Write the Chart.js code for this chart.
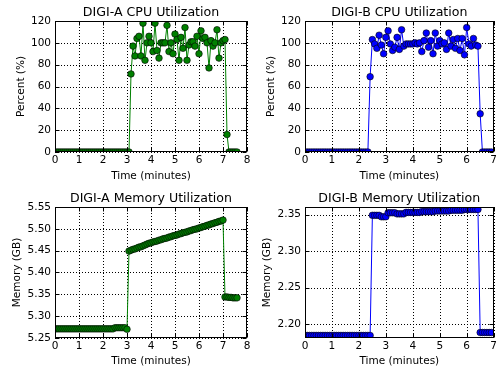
<!DOCTYPE html>
<html>
<head>
<meta charset="utf-8">
<script src="https://cdn.jsdelivr.net/npm/chart.js@4.4.0/dist/chart.umd.min.js"></script>
<style>
html, body { margin: 0; padding: 0; background: #fff; }
#wrap { position: relative; width: 499px; height: 370px; overflow: hidden; }
canvas { position: absolute; }
</style>
</head>
<body>
<div id="wrap">
  <canvas id="cpuA" width="256" height="185" style="left:0;top:0"></canvas>
  <canvas id="memA" width="256" height="185" style="left:0;top:185px"></canvas>
  <canvas id="cpuB" width="249" height="185" style="left:250px;top:0"></canvas>
  <canvas id="memB" width="249" height="185" style="left:250px;top:185px"></canvas>
</div>
<script>
// sample clocks (seconds since start)
const timeSecA = [0,5,10,15,20,25,30,35,40,45,50,55,60,65,70,75,80,85,90,95,
  100,105,110,115,120,125,130,135,140,145,150,155,160,165,170,175,180,185,190,195,
  200,205,210,215,220,225,230,235,240,245,250,255,260,265,270,275,280,285,290,295,
  300,305,310,315,320,325,330,335,340,345,350,355,360,365,370,375,380,385,390,395,
  400,405,410,415,420,425,430,435,440,445,450,455];
const timeSecB = [0,5,10,15,20,25,30,35,40,45,50,55,60,65,70,75,80,85,90,95,
  100,105,110,115,120,125,130,135,140,145,150,155,160,165,170,175,180,185,190,195,
  200,205,210,215,220,225,230,235,240,245,250,255,260,265,270,275,280,285,290,295,
  300,305,310,315,320,325,330,335,340,345,350,355,360,365,370,375,380,385,390,395,
  400,405,410,415];

// CPU utilization, percent
const cpuA = [0,0,0,0,0,0,0,0,0,0, 0,0,0,0,0,0,0,0,0,0,
  0,0,0,0,0,0,0,0,0,0, 0,0,0,0,0,0,0,0,
  71.5,97,88,104,106,88,118,84,100,106,
  100,92,118,93,86,100,100,100,116,92,
  100,90,108,103,84,105,95,114,84,98,
  101,101,97,106,90,111,104,105,100,77,
  102,97,100,112,86,100,102,103,
  16,
  0,0,0,0,0];
const cpuB = [0,0,0,0,0,0,0,0,0,0, 0,0,0,0,0,0,0,0,0,0,
  0,0,0,0,0,0,0,0,0,
  69,
  103,99,95,107,98,90,105,111,99,93,
  96,105,94,112,97,99,99,99,99,100,
  99,100,92,102,109,96,102,90,109,97,
  102,99,100,94,109,97,103,95,104,93,
  104,89,114,99,97,104,98,97,
  35,
  0,0,0,0,0];

// memory utilization, GB
const memA = [5.271,5.271,5.271,5.271,5.271,5.271,5.271,5.271,5.271,5.271,
  5.271,5.271,5.271,5.271,5.271,5.271,5.271,5.271,5.271,5.271,
  5.271,5.271,5.271,5.271,5.271,5.271,5.271,5.271,5.271,5.271,
  5.2735,5.2735,5.2735,5.2735,5.2735,5.2735,5.270,
  5.449,5.451,5.453,5.454,5.456,5.458,5.459,5.461,5.463,5.465,5.467,5.468,
  5.470,5.471,5.472,5.474,5.475,5.477,5.478,5.479,5.481,5.482,5.484,5.485,
  5.486,5.488,5.489,5.491,5.492,5.493,5.495,5.496,5.498,5.499,5.500,5.502,
  5.503,5.505,5.506,5.508,5.509,5.511,5.512,5.514,5.515,5.517,5.518,5.520,
  5.344,5.344,5.343,5.343,5.342,5.342,5.342];
const memB = [2.1845,2.1845,2.1845,2.1845,2.1845,2.1845,2.1845,2.1845,2.1845,2.1845,
  2.1845,2.1845,2.1845,2.1845,2.1845,2.1845,2.1845,2.1845,2.1845,2.1845,
  2.1845,2.1845,2.1845,2.1845,2.1845,2.1845,2.1845,2.1845,2.1845,2.1845,
  2.349,2.349,2.349,2.349, 2.347,2.347,2.347,
  2.3525,2.3525,2.3525,2.3525, 2.351,2.351,2.351,2.351,
  2.353,2.353,2.353,2.353,2.353,2.353,2.353,
  2.354,2.354,2.354,2.354,2.354,2.354,
  2.355,2.355,2.355,2.355,2.355,2.355,2.355,
  2.356,2.356,2.356,2.356,2.356,2.356,
  2.357,2.357,2.357,2.357,2.357,2.357,2.357,
  2.1885,2.1885,2.1885,2.1885,2.1885,2.1885];

// tick positions
const xTicksA = [0,1,2,3,4,5,6,7,8];
const xTicksB = [0,1,2,3,4,5,6,7];
const yTicksCpu = [0,20,40,60,80,100,120];
const yTicksMemA = [5.25,5.30,5.35,5.40,5.45,5.50,5.55];
const yTicksMemB = [2.20,2.25,2.30,2.35];

const FONT = '"DejaVu Sans", sans-serif';
const tickFont = { family: FONT, size: 10.5 };
const labelFont = { family: FONT, size: 10.5 };

// dotted grid underneath, then box, inward ticks and title on top
const framePlugin = {
  id: 'frame',
  beforeDatasetsDraw(chart) {
    const { ctx, chartArea: a, scales: { x, y } } = chart;
    ctx.save();
    ctx.strokeStyle = '#000';
    ctx.lineWidth = 1;
    ctx.setLineDash([1, 2]);
    ctx.beginPath();
    x.ticks.forEach(t => {
      const px = Math.round(x.getPixelForValue(t.value)) + 0.5;
      ctx.moveTo(px, a.top); ctx.lineTo(px, a.bottom);
    });
    y.ticks.forEach(t => {
      const py = Math.round(y.getPixelForValue(t.value)) + 0.5;
      ctx.moveTo(a.left, py); ctx.lineTo(a.right, py);
    });
    ctx.stroke();
    ctx.restore();
  },
  afterDatasetsDraw(chart, args, opts) {
    const { ctx, chartArea: a, scales: { x, y } } = chart;
    const l = Math.round(a.left) + 0.5, r = Math.round(a.right) - 0.5;
    const t = Math.round(a.top) + 0.5, b = Math.round(a.bottom) - 0.5;
    ctx.save();
    ctx.strokeStyle = '#000';
    ctx.lineWidth = 1;
    ctx.beginPath();
    x.ticks.forEach(tk => {
      const px = Math.round(x.getPixelForValue(tk.value)) + 0.5;
      ctx.moveTo(px, b); ctx.lineTo(px, b - 4);
      ctx.moveTo(px, t); ctx.lineTo(px, t + 4);
    });
    y.ticks.forEach(tk => {
      const py = Math.round(y.getPixelForValue(tk.value)) + 0.5;
      ctx.moveTo(l, py); ctx.lineTo(l + 4, py);
      ctx.moveTo(r, py); ctx.lineTo(r - 4, py);
    });
    ctx.stroke();
    ctx.strokeRect(l, t, r - l, b - t);
    ctx.fillStyle = '#000';
    ctx.font = '12.6px ' + FONT;
    ctx.textAlign = 'center';
    ctx.textBaseline = 'alphabetic';
    ctx.fillText(opts.title, (a.left + a.right) / 2, a.top - 5);
    ctx.restore();
  }
};

function makeChart(id, c) {
  return new Chart(document.getElementById(id), {
    type: 'line',
    data: {
      datasets: [{
        data: c.times.map((s, i) => ({ x: s / 60, y: c.values[i] })),
        borderColor: c.color,
        borderWidth: 1,
        pointRadius: 3.3,
        pointBackgroundColor: c.color,
        pointBorderColor: '#000',
        pointBorderWidth: 0.6,
        tension: 0,
        clip: 0
      }]
    },
    options: {
      responsive: false,
      animation: false,
      devicePixelRatio: 1,
      layout: { padding: { top: c.padTop, right: c.padRight, left: 0, bottom: 0 } },
      plugins: {
        legend: { display: false },
        tooltip: { enabled: false },
        frame: { title: c.title }
      },
      scales: {
        x: {
          type: 'linear',
          min: c.xTicks[0],
          max: c.xTicks[c.xTicks.length - 1],
          afterBuildTicks: s => { s.ticks = c.xTicks.map(v => ({ value: v })); },
          afterFit: s => { s.height = c.xAxisH; },
          grid: { display: false, drawTicks: false },
          border: { display: false },
          ticks: { color: '#000', font: tickFont, padding: 2, maxRotation: 0, autoSkip: false, callback: v => String(v) },
          title: { display: true, text: 'Time (minutes)', color: '#000', font: labelFont, padding: { top: 0, bottom: 2.5 } }
        },
        y: {
          min: c.yMin,
          max: c.yMax,
          afterBuildTicks: s => { s.ticks = c.yTicks.map(v => ({ value: v })); },
          afterFit: s => { s.width = 55; },
          grid: { display: false, drawTicks: false },
          border: { display: false },
          ticks: { color: '#000', font: tickFont, padding: 4, autoSkip: false, callback: v => v.toFixed(c.dec) },
          title: { display: true, text: c.yLabel, color: '#000', font: labelFont, padding: { top: c.yTitlePad, bottom: 0 } }
        }
      }
    },
    plugins: [framePlugin]
  });
}

makeChart('cpuA', {
  title: 'DIGI-A CPU Utilization', yLabel: 'Percent (%)',
  times: timeSecA, values: cpuA, color: '#008000',
  xTicks: xTicksA, yTicks: yTicksCpu, yMin: 0, yMax: 120, dec: 0,
  padTop: 21, padRight: 9, xAxisH: 33, yTitlePad: 14.5
});
makeChart('cpuB', {
  title: 'DIGI-B CPU Utilization', yLabel: 'Percent (%)',
  times: timeSecB, values: cpuB, color: '#0000ff',
  xTicks: xTicksB, yTicks: yTicksCpu, yMin: 0, yMax: 120, dec: 0,
  padTop: 21, padRight: 2, xAxisH: 33, yTitlePad: 14.5
});
makeChart('memA', {
  title: 'DIGI-A Memory Utilization', yLabel: 'Memory (GB)',
  times: timeSecA, values: memA, color: '#008000',
  xTicks: xTicksA, yTicks: yTicksMemA, yMin: 5.25, yMax: 5.55, dec: 2,
  padTop: 22, padRight: 9, xAxisH: 32, yTitlePad: 10.9
});
makeChart('memB', {
  title: 'DIGI-B Memory Utilization', yLabel: 'Memory (GB)',
  times: timeSecB, values: memB, color: '#0000ff',
  xTicks: xTicksB, yTicks: yTicksMemB, yMin: 2.181, yMax: 2.3604, dec: 2,
  padTop: 22, padRight: 2, xAxisH: 32, yTitlePad: 10.9
});
</script>
</body>
</html>
